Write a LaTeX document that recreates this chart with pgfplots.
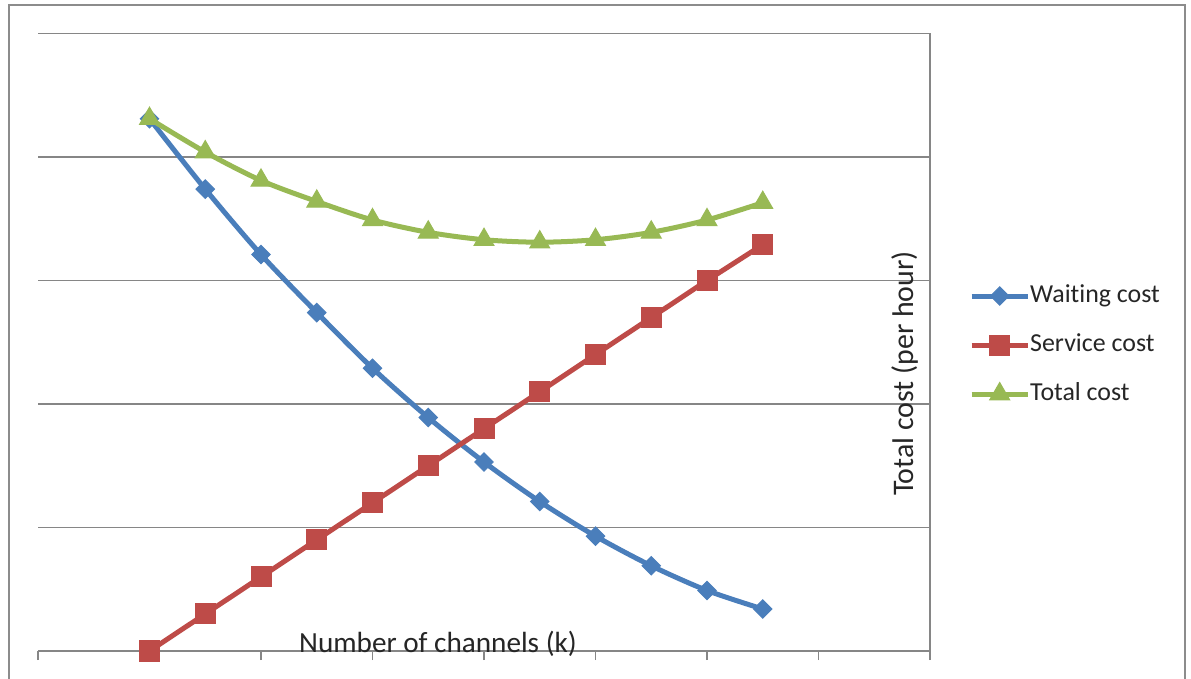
\documentclass[border=0pt]{standalone}
\usepackage{pgfplots}
\pgfplotsset{compat=1.18}
\usepackage{fontspec}
\setmainfont{Carlito}[Ligatures=NoCommon]
\definecolor{wblue}{HTML}{4A7EBB}
\definecolor{sred}{HTML}{BE4B48}
\definecolor{tgreen}{HTML}{98B954}
\definecolor{gridgray}{HTML}{868686}
\begin{document}
\begin{tikzpicture}
\path[use as bounding box] (0,0) rectangle (1191bp,679bp);
\fill[white] (0,0) rectangle (1191bp,679bp);
\draw[color=gray!90, line width=2bp] (8.5bp,-5bp) -- (8.5bp,673.5bp) -- (1185bp,673.5bp) -- (1185bp,-5bp);
\begin{axis}[
  at={(38bp,28bp)}, anchor=south west,
  scale only axis, width=892bp, height=617.5bp,
  xmin=0, xmax=16, ymin=0, ymax=5,
  axis x line*=bottom, axis y line*=right,
  axis line style={gridgray, line width=1.3bp, -},
  xtick={0,2,...,16}, xticklabels={},
  ytick={0,1,...,5}, yticklabels={},
  tick align=outside, major tick length=9bp,
  xtick style={gridgray, line width=1.3bp},
  ytick style={draw=none},
  ymajorgrids, major grid style={gridgray, line width=1.3bp},
  clip=false,
  xlabel={Number of channels (k)},
  ylabel={Total cost (per hour)},
  every axis x label/.style={at={(axis description cs:0.4484,0)}, anchor=base, yshift=-1bp, font=\fontsize{29.3}{34}\selectfont, text=black!85},
  every axis y label/.style={at={(axis description cs:0.9810,0.4494)}, rotate=90, anchor=base, font=\fontsize{30}{35}\selectfont, text=black!85},
  legend style={at={(axis description cs:1.0437,0.4955)}, anchor=west, draw=none, fill=none, inner sep=0pt, row sep=24.5bp, font=\fontsize{26}{31}\selectfont, text=black!85, nodes={inner ysep=0pt, inner xsep=0pt, text height=18.5bp, text depth=6bp}},
  legend cell align=left,
  legend image code/.code={\draw[mark repeat=2, mark phase=2, #1] plot coordinates {(0bp,0bp) (28bp,0bp) (56bp,0bp)};},
]
\addplot[wblue, line width=5bp, smooth, mark=square*, mark size=6.5bp, mark options={rotate=45, line width=1bp, solid}] coordinates {
(2,4.31) (3,3.74) (4,3.21) (5,2.74) (6,2.29) (7,1.89) (8,1.53) (9,1.21) (10,0.93) (11,0.69) (12,0.49) (13,0.34)};
\addlegendentry{Waiting cost}
\addplot[sred, line width=5bp, mark=square*, mark size=10bp, mark options={line width=1bp, solid}] coordinates {
(2,0) (3,0.30) (4,0.60) (5,0.90) (6,1.20) (7,1.50) (8,1.80) (9,2.10) (10,2.40) (11,2.70) (12,3.00) (13,3.29)};
\addlegendentry{Service cost}
\addplot[tgreen, line width=5bp, smooth, mark=triangle*, mark size=11.5bp, mark options={line width=1bp, solid}] coordinates {
(2,4.31) (3,4.04) (4,3.81) (5,3.64) (6,3.49) (7,3.39) (8,3.33) (9,3.31) (10,3.33) (11,3.39) (12,3.49) (13,3.63)};
\addlegendentry{Total cost}
\end{axis}
\end{tikzpicture}
\end{document}
